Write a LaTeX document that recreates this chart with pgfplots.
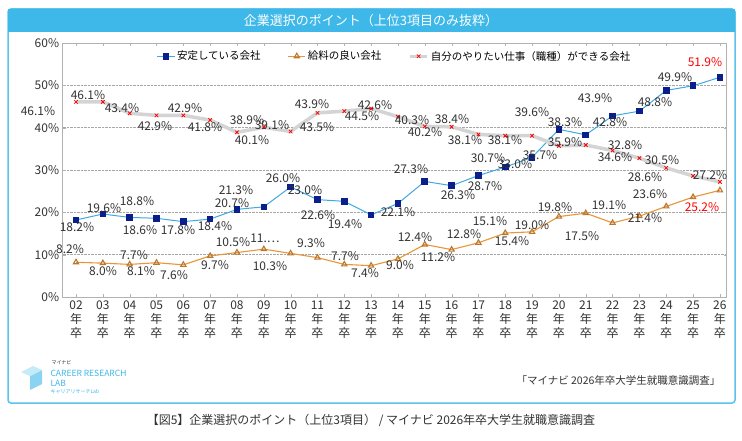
\documentclass[border=0pt]{standalone}
\usepackage{pgfplots}
\pgfplotsset{compat=1.18}
\usepackage{fontspec}
\setmainfont{Noto Sans CJK JP}
\definecolor{frame}{HTML}{5BC3EC}
\definecolor{ttl}{HTML}{3DB8E8}
\definecolor{bl}{HTML}{3FA9E0}
\definecolor{nv}{HTML}{0A1E8C}
\definecolor{org}{HTML}{E8963A}
\definecolor{gr}{HTML}{D4D4D4}
\definecolor{txt}{HTML}{333333}
\newcommand{\lab}[3]{\node[font=\fontsize{12}{13}\selectfont,text=txt,inner sep=0pt] at (#1,{440-#2}) {#3};}
\newcommand{\labr}[3]{\node[font=\fontsize{12}{13}\selectfont,text=red,inner sep=0pt] at (#1,{440-#2}) {#3};}
\begin{document}
\begin{tikzpicture}[x=1pt,y=1pt]
\fill[white] (0,0) rectangle (742,440);
\draw[frame,line width=1.5pt,rounded corners=3pt] (8,{440-403}) rectangle (735,{440-9});
\fill[ttl] (8,{440-32}) rectangle (735,{440-9});
\node[white,font=\fontsize{13}{15}\selectfont] at (371,{440-20.5}) {企業選択のポイント（上位3項目のみ抜粋）};
\begin{axis}[at={(62.6pt,143pt)},anchor=south west,scale only axis,width=664pt,height=254pt,
 xmin=-0.5,xmax=24.25,ymin=0,ymax=60,ytick={0,10,...,60},
 yticklabel={\pgfmathprintnumber{\tick}\%},
 /pgf/number format/assume math mode=true,
 xtick={0,...,24},
 xticklabels={02\\年\\卒,03\\年\\卒,04\\年\\卒,05\\年\\卒,06\\年\\卒,07\\年\\卒,08\\年\\卒,09\\年\\卒,10\\年\\卒,11\\年\\卒,12\\年\\卒,13\\年\\卒,14\\年\\卒,15\\年\\卒,16\\年\\卒,17\\年\\卒,18\\年\\卒,19\\年\\卒,20\\年\\卒,21\\年\\卒,22\\年\\卒,23\\年\\卒,24\\年\\卒,25\\年\\卒,26\\年\\卒},
 xticklabel style={align=center,font=\fontsize{12}{14}\selectfont,text=txt},
 yticklabel style={font=\fontsize{12}{14}\selectfont,text=txt},
 ymajorgrids,grid style={gray!70,densely dotted},
 axis line style={gray!60},tick style={gray!60},major tick length=3pt,
 legend style={at={(0.5,0.985)},anchor=north,draw=none,fill=white,legend columns=3,font=\fontsize{10.5}{12}\selectfont,/tikz/every even column/.append style={column sep=25pt}},
 legend cell align=left,
 clip=false]
\addplot[bl,line width=1pt,mark=square*,mark size=2.8pt,mark options={nv,fill=nv}] coordinates {
(0,18.2)(1,19.6)(2,18.8)(3,18.6)(4,17.8)(5,18.4)(6,20.7)(7,21.3)(8,26.0)(9,23.0)(10,22.6)(11,19.4)(12,22.1)(13,27.3)(14,26.3)(15,28.7)(16,30.7)(17,33.0)(18,39.6)(19,38.3)(20,42.8)(21,43.9)(22,48.8)(23,49.9)(24,51.9)};
\addlegendentry{安定している会社}
\addplot[org,line width=1.1pt,mark=triangle,mark size=3pt,mark options={org!80!black,solid,fill=white}] coordinates {
(0,8.2)(1,8.0)(2,7.7)(3,8.1)(4,7.6)(5,9.7)(6,10.5)(7,11.3)(8,10.3)(9,9.3)(10,7.7)(11,7.4)(12,9.0)(13,12.4)(14,11.2)(15,12.8)(16,15.1)(17,15.4)(18,19.0)(19,19.8)(20,17.5)(21,19.1)(22,21.4)(23,23.6)(24,25.2)};
\addlegendentry{給料の良い会社}
\addplot[gr,line width=3.5pt,mark=x,mark size=2.5pt,mark options={red,line width=0.8pt}] coordinates {
(0,46.1)(1,46.1)(2,43.4)(3,42.9)(4,42.9)(5,41.8)(6,38.9)(7,40.1)(8,39.1)(9,43.5)(10,43.9)(11,44.5)(12,42.6)(13,40.3)(14,40.2)(15,38.4)(16,38.1)(17,38.1)(18,35.7)(19,35.9)(20,34.6)(21,32.8)(22,30.5)(23,28.6)(24,27.2)};
\addlegendentry{自分のやりたい仕事（職種）ができる会社}
\end{axis}
% blue labels
\lab{77}{227}{18.2\%}\lab{104}{208}{19.6\%}\lab{137}{201}{18.8\%}\lab{140}{230}{18.6\%}\lab{178}{230}{17.8\%}
\lab{215}{226}{18.4\%}\lab{232}{203}{20.7\%}\lab{236}{190}{21.3\%}\lab{283}{178}{26.0\%}\lab{305}{190}{23.0\%}
\lab{318}{215}{22.6\%}\lab{345}{224}{19.4\%}\lab{398}{212}{22.1\%}\lab{411}{169}{27.3\%}\lab{458}{195}{26.3\%}
\lab{485}{186}{28.7\%}\lab{488}{158}{30.7\%}\lab{515}{164}{33.0\%}\lab{532}{112}{39.6\%}\lab{565}{122}{38.3\%}
\lab{610}{122}{42.8\%}\lab{595}{98}{43.9\%}\lab{655}{102}{48.8\%}\lab{675}{77}{49.9\%}\labr{705}{62}{51.9\%}
% orange labels
\lab{70}{249}{8.2\%}\lab{103}{271}{8.0\%}\lab{134}{255}{7.7\%}\lab{141}{271}{8.1\%}\lab{174}{275}{7.6\%}
\lab{215}{265}{9.7\%}\lab{233}{242}{10.5\%}\lab{265}{238}{11.…}\lab{270}{266}{10.3\%}\lab{311}{243}{9.3\%}
\lab{345}{256}{7.7\%}\lab{365}{273}{7.4\%}\lab{400}{265}{9.0\%}\lab{415}{237}{12.4\%}\lab{438}{257}{11.2\%}
\lab{464}{234}{12.8\%}\lab{490}{221}{15.1\%}\lab{512}{241}{15.4\%}\lab{532}{225}{19.0\%}\lab{555}{207}{19.8\%}
\lab{582}{236}{17.5\%}\lab{609}{205}{19.1\%}\lab{645}{218}{21.4\%}\lab{650}{194}{23.6\%}\labr{702}{207}{25.2\%}
% gray labels
\lab{38}{111}{46.1\%}\lab{88}{95}{46.1\%}\lab{122}{108}{43.4\%}\lab{155}{126}{42.9\%}\lab{185}{108}{42.9\%}
\lab{205}{127}{41.8\%}\lab{247}{120}{38.9\%}\lab{252}{140}{40.1\%}\lab{272}{125}{39.1\%}\lab{317}{127}{43.5\%}
\lab{312}{104}{43.9\%}\lab{362}{116}{44.5\%}\lab{375}{105}{42.6\%}\lab{412}{120}{40.3\%}\lab{425}{132}{40.2\%}
\lab{452}{119}{38.4\%}\lab{465}{140}{38.1\%}\lab{505}{140}{38.1\%}\lab{540}{155}{35.7\%}\lab{565}{142}{35.9\%}
\lab{625}{145}{32.8\%}\lab{615}{157}{34.6\%}\lab{662}{160}{30.5\%}\lab{645}{177}{28.6\%}\lab{710}{175}{27.2\%}
% source and logo
\node[font=\fontsize{10.5}{12}\selectfont,text=txt,anchor=east] at (724,{440-381}) {「マイナビ 2026年卒大学生就職意識調査」};
\fill[ttl!60] (30,{440-390}) -- (42,{440-384}) -- (42,{440-370}) -- (30,{440-376}) -- cycle;
\fill[ttl!30] (30,{440-376}) -- (42,{440-370}) -- (33,{440-366}) -- (21,{440-372}) -- cycle;
\node[font=\fontsize{5}{6}\selectfont,text=txt,anchor=west] at (48,{440-363}) {マイナビ};
\node[font=\fontsize{8.5}{9}\selectfont,text=ttl,anchor=west] at (47,{440-373}) {CAREER RESEARCH};
\node[font=\fontsize{8.5}{9}\selectfont,text=ttl,anchor=west] at (47,{440-383}) {LAB};
\node[font=\fontsize{5}{6}\selectfont,text=ttl,anchor=west] at (47,{440-392}) {キャリアリサーチLab};
\node[font=\fontsize{12}{14}\selectfont,text=txt] at (371,{440-420}) {【図5】企業選択のポイント（上位3項目） / マイナビ 2026年卒大学生就職意識調査};
\end{tikzpicture}
\end{document}
